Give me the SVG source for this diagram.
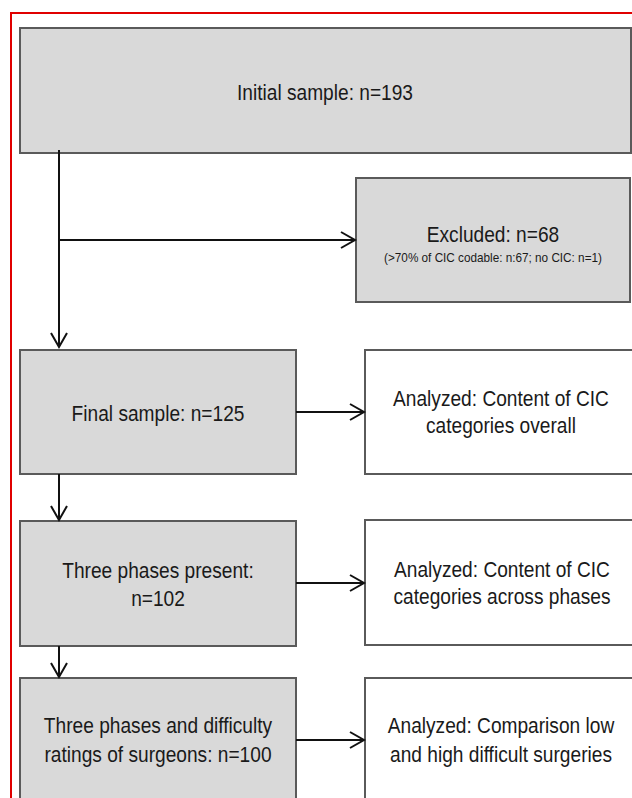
<svg xmlns="http://www.w3.org/2000/svg" width="632" height="798" viewBox="0 0 632 798">
<style>
.frame{fill:none;stroke:#e00000;stroke-width:2}
.g{fill:#d9d9d9;stroke:#5a5a5a;stroke-width:2}
.w{fill:#ffffff;stroke:#5a5a5a;stroke-width:2}
.t{font-family:"Liberation Sans",Arial,sans-serif;font-size:22px;fill:#1a1a1a;text-anchor:middle}
.s{font-family:"Liberation Sans",Arial,sans-serif;font-size:13.5px;fill:#1a1a1a;text-anchor:middle}
.c{fill:none;stroke:#111;stroke-width:2}
</style>
<defs>
<marker id="ah" markerUnits="userSpaceOnUse" markerWidth="20" markerHeight="20" refX="15" refY="9" orient="auto" viewBox="0 0 20 18">
<path d="M1,1 L15,9 L1,17" fill="none" stroke="#111" stroke-width="2"/>
</marker>
</defs>
<rect class="frame" x="11" y="13" width="700" height="900"/>
<g id="initial">
<rect class="g" x="20" y="28" width="611" height="125"/>
<g transform="translate(325,100) scale(0.87,1)"><text class="t" x="0" y="0">Initial sample: n=193</text></g>
</g>
<g id="excluded">
<rect class="g" x="356" y="178" width="274" height="124"/>
<g transform="translate(493,242) scale(0.87,1)"><text class="t" x="0" y="0">Excluded: n=68</text></g>
<g transform="translate(493,262) scale(0.87,1)"><text class="s" x="0" y="0">(&gt;70% of CIC codable: n:67; no CIC: n=1)</text></g>
</g>
<g id="final">
<rect class="g" x="20" y="350" width="276" height="124"/>
<g transform="translate(158,421) scale(0.87,1)"><text class="t" x="0" y="0">Final sample: n=125</text></g>
</g>
<g id="analyzed1">
<rect class="w" x="365" y="350" width="300" height="124"/>
<g transform="translate(501,406) scale(0.87,1)"><text class="t" x="0" y="0">Analyzed: Content of CIC</text></g>
<g transform="translate(501,433) scale(0.87,1)"><text class="t" x="0" y="0">categories overall</text></g>
</g>
<g id="three">
<rect class="g" x="20" y="521" width="276" height="125"/>
<g transform="translate(158,578) scale(0.87,1)"><text class="t" x="0" y="0">Three phases present:</text></g>
<g transform="translate(158,606) scale(0.87,1)"><text class="t" x="0" y="0">n=102</text></g>
</g>
<g id="analyzed2">
<rect class="w" x="365" y="520" width="300" height="125"/>
<g transform="translate(502,577) scale(0.87,1)"><text class="t" x="0" y="0">Analyzed: Content of CIC</text></g>
<g transform="translate(502,604) scale(0.87,1)"><text class="t" x="0" y="0">categories across phases</text></g>
</g>
<g id="difficulty">
<rect class="g" x="20" y="678" width="276" height="160"/>
<g transform="translate(158,733) scale(0.87,1)"><text class="t" x="0" y="0">Three phases and difficulty</text></g>
<g transform="translate(158,762) scale(0.87,1)"><text class="t" x="0" y="0">ratings of surgeons: n=100</text></g>
</g>
<g id="analyzed3">
<rect class="w" x="365" y="678" width="300" height="160"/>
<g transform="translate(501,733) scale(0.87,1)"><text class="t" x="0" y="0">Analyzed: Comparison low</text></g>
<g transform="translate(501,762) scale(0.87,1)"><text class="t" x="0" y="0">and high difficult surgeries</text></g>
</g>
<g id="connectors">
<path class="c" d="M59,150 L59,347" marker-end="url(#ah)"/>
<path class="c" d="M59,240 L355,240" marker-end="url(#ah)"/>
<path class="c" d="M296,412 L364,412" marker-end="url(#ah)"/>
<path class="c" d="M59,474 L59,520" marker-end="url(#ah)"/>
<path class="c" d="M296,583 L364,583" marker-end="url(#ah)"/>
<path class="c" d="M59,646 L59,677" marker-end="url(#ah)"/>
<path class="c" d="M296,740 L364,740" marker-end="url(#ah)"/>
</g>
</svg>
